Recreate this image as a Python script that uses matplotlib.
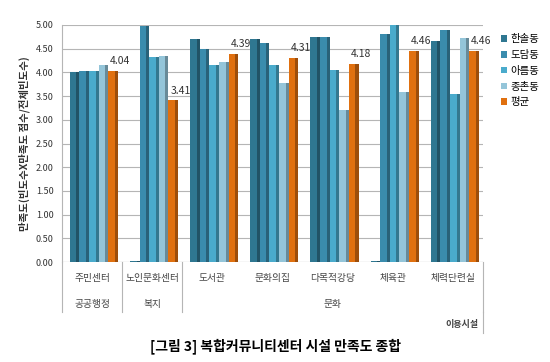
import matplotlib.pyplot as plt
import matplotlib.colors as mcolors
import numpy as np

plt.rcParams['font.family'] = ['Noto Sans CJK KR', 'DejaVu Sans']

# Data
categories = ["주민센터", "노인문화센터", "도서관", "문화의집", "다목적강당", "체육관", "체력단련실"]
groups = ["공공행정", "복지", "문화"]
group_spans = [(0, 0), (1, 1), (2, 6)]
series_names = ["한솔동", "도담동", "아름동", "종촌동", "평균"]
hansol = [4.00, 0.00, 4.70, 4.70, 4.75, 0.00, 4.67]
dodam = [4.02, 4.97, 4.50, 4.63, 4.75, 4.80, 4.90]
areum = [4.03, 4.33, 4.15, 4.15, 4.05, 5.00, 3.55]
jongchon = [4.15, 4.35, 4.22, 3.77, 3.20, 3.58, 4.72]
average = [4.04, 3.41, 4.39, 4.31, 4.18, 4.46, 4.46]
yticks = np.arange(0, 5.01, 0.5)

series = [hansol, dodam, areum, jongchon, average]
colors = ["#2f7791", "#3a8cad", "#4aabcc", "#94c5d9", "#e0700f"]

fig = plt.figure(figsize=(5.5, 3.62), dpi=100)
ax = fig.add_axes([0.1127, 0.276, 0.7655, 0.655])

x = np.arange(len(categories))
w = 0.16
for i, (vals, c, name) in enumerate(zip(series, colors, series_names)):
    v = np.array(vals)
    pos = x + (i - 2) * w + 0.03
    shown = np.maximum(v, 0.03)
    ax.bar(pos, shown, w, color=c, label=name, zorder=3, clip_on=False)
    # darker side face for a bit of 3D look
    dark = np.array(mcolors.to_rgb(c)) * 0.7
    ax.bar(pos + w / 2 - 0.025, shown, 0.05, color=dark, zorder=3, clip_on=False)
    if name == "평균":
        for xi, vi in zip(pos, v):
            ax.text(xi + 0.12, vi + 0.1, f"{vi:.2f}", ha="center", va="bottom",
                    fontsize=7.5, color="#333333", zorder=4)

ax.set_xlim(-0.5, len(categories) - 0.5)
ax.set_ylim(0, 5)
ax.set_yticks(yticks)
ax.set_yticklabels([f"{t:.2f}" for t in yticks], fontsize=6.5, color="#333333")
ax.yaxis.grid(True, color="#b5b5b5", linewidth=0.8, zorder=0)
ax.set_xticks([])
ax.tick_params(axis="y", length=0, pad=6)
for s in ["top", "right", "bottom"]:
    ax.spines[s].set_visible(False)
ax.spines["left"].set_color("#b5b5b5")
ax.axhline(0, color="#b5b5b5", linewidth=0.8, zorder=1)

ax.set_ylabel("만족도(빈도수X만족도 점수/전체빈도수)", fontsize=7.5,
              fontweight="bold", color="#333333", labelpad=4)

# category table below the axis
tr = ax.get_xaxis_transform()
for xi, name in zip(x, categories):
    ax.text(xi, -0.068, name, transform=tr, ha="center", va="center",
            fontsize=7, color="#444444")
for gname, (a, b) in zip(groups, group_spans):
    ax.text((a + b) / 2, -0.175, gname, transform=tr, ha="center", va="center",
            fontsize=7, color="#444444")
for bound in [-0.5, 0.5, 1.5, 6.5]:
    ax.plot([bound, bound], [0, -0.21], transform=tr, color="#b5b5b5",
            linewidth=0.8, clip_on=False)
ax.plot([6.5, 6.5], [-0.21, -0.3], transform=tr, color="#b5b5b5",
        linewidth=0.8, clip_on=False)
ax.text(6.42, -0.265, "이용시설", transform=tr, ha="right", va="center",
        fontsize=6.5, fontweight="bold", color="#444444")

ax.legend(loc="upper left", bbox_to_anchor=(1.02, 1.0), frameon=False,
          fontsize=7.5, handlelength=0.6, handleheight=0.6, handletextpad=0.3,
          labelspacing=0.55)

fig.text(0.5, 0.045, "[그림 3] 복합커뮤니티센터 시설 만족도 종합", ha="center",
         va="center", fontsize=10, fontweight="bold")

fig.savefig("out.png", dpi=100)
